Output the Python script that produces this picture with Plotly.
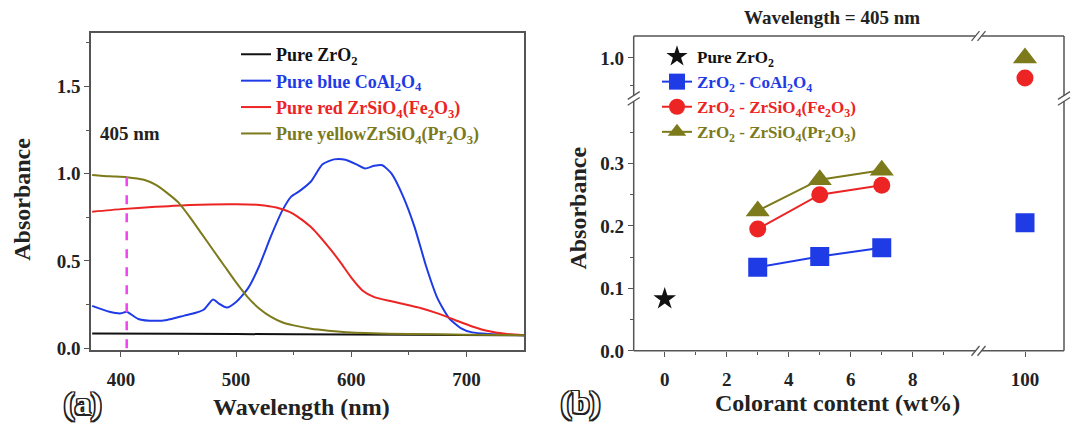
import plotly.graph_objects as go

W, H = 1072, 433

# ---- (a) absorption spectra -------------------------------------------------
wl_zro2 = [375, 450, 550, 650, 750]
abs_zro2 = [0.085, 0.083, 0.080, 0.077, 0.075]

wl_blue = [375, 390, 400, 405, 415, 430, 440, 455, 465, 472, 480, 485, 492, 500,
           510, 520, 530, 540, 548, 555, 565, 575, 585, 595, 605, 612, 620, 627,
           635, 645, 655, 665, 675, 685, 695, 705, 720, 750]
abs_blue = [0.243, 0.209, 0.200, 0.209, 0.168, 0.157, 0.162, 0.187, 0.203, 0.222,
            0.280, 0.256, 0.233, 0.265, 0.340, 0.470, 0.638, 0.787, 0.870, 0.900,
            0.955, 1.054, 1.082, 1.080, 1.052, 1.030, 1.045, 1.048, 1.000, 0.870,
            0.694, 0.470, 0.284, 0.172, 0.116, 0.091, 0.082, 0.075]

wl_red = [375, 400, 430, 460, 500, 520, 535, 550, 565, 580, 590, 600, 610, 620,
          635, 650, 660, 675, 690, 705, 720, 735, 750]
abs_red = [0.782, 0.797, 0.810, 0.821, 0.825, 0.821, 0.806, 0.769, 0.694, 0.582,
           0.498, 0.405, 0.330, 0.293, 0.269, 0.246, 0.231, 0.200, 0.162, 0.125,
           0.097, 0.082, 0.075]

wl_yellow = [375, 390, 405, 420, 430, 440, 450, 460, 470, 480, 490, 500, 510, 520,
             530, 540, 550, 565, 580, 600, 650, 700, 750]
abs_yellow = [0.993, 0.985, 0.980, 0.965, 0.937, 0.890, 0.834, 0.750, 0.657, 0.563,
              0.470, 0.377, 0.293, 0.228, 0.181, 0.149, 0.131, 0.112, 0.101, 0.091,
              0.082, 0.078, 0.075]

marked_wl = 405
marked_top = 1.03

# ---- (b) absorbance at 405 nm vs colorant content ---------------------------
pure_content = [0]
pure_abs = [0.083]
content = [3, 5, 7]
blue_abs = [0.134, 0.151, 0.165]
red_abs = [0.195, 0.250, 0.265]
yellow_abs = [0.224, 0.274, 0.289]
pure_colorant = [100]
blue_pure_abs = [0.205]
red_pure_abs = [0.928]
yellow_pure_abs = [1.000]

names_a = ["Pure ZrO<sub>2</sub>",
           "Pure blue CoAl<sub>2</sub>O<sub>4</sub>",
           "Pure red ZrSiO<sub>4</sub>(Fe<sub>2</sub>O<sub>3</sub>)",
           "Pure yellowZrSiO<sub>4</sub>(Pr<sub>2</sub>O<sub>3</sub>)"]
names_b = ["Pure ZrO<sub>2</sub>",
           "ZrO<sub>2</sub> - CoAl<sub>2</sub>O<sub>4</sub>",
           "ZrO<sub>2</sub> - ZrSiO<sub>4</sub>(Fe<sub>2</sub>O<sub>3</sub>)",
           "ZrO<sub>2</sub> - ZrSiO<sub>4</sub>(Pr<sub>2</sub>O<sub>3</sub>)"]

BLACK = "#111111"
BLUE = "#1f3be6"
RED = "#ec2424"
OLIVE = "#7c7a1a"
MAGENTA = "#ee44ee"
AXIS = "#555555"
FONT = "Liberation Serif, Times New Roman, serif"


def px(x):
    return x / W


def py(y):
    return (H - y) / H


def colored(text, color):
    return f"<span style='color:{color}'>{text}</span>"


fig = go.Figure()

# panel (a)
for wl, ab, name, col in [(wl_zro2, abs_zro2, names_a[0], BLACK),
                          (wl_blue, abs_blue, names_a[1], BLUE),
                          (wl_red, abs_red, names_a[2], RED),
                          (wl_yellow, abs_yellow, names_a[3], OLIVE)]:
    fig.add_trace(go.Scatter(x=wl, y=ab, mode="lines", name=colored(name, col),
                             line=dict(color=col, width=2, shape="spline", smoothing=0.6),
                             xaxis="x", yaxis="y", legend="legend"))

fig.add_trace(go.Scatter(x=[marked_wl, marked_wl], y=[0, marked_top], mode="lines",
                         line=dict(color=MAGENTA, width=2.5, dash="dash"),
                         showlegend=False, xaxis="x", yaxis="y"))

# panel (b)
fig.add_trace(go.Scatter(x=pure_content, y=pure_abs, mode="markers",
                         name=colored(names_b[0], BLACK),
                         marker=dict(symbol="star", size=17, color=BLACK),
                         xaxis="x2", yaxis="y2", legend="legend2"))
series_b = [(blue_abs, blue_pure_abs, names_b[1], BLUE, "square", 19, "y2"),
            (red_abs, red_pure_abs, names_b[2], RED, "circle", 17, "y3"),
            (yellow_abs, yellow_pure_abs, names_b[3], OLIVE, "triangle-up", 21, "y3")]
for vals, pure_val, name, col, sym, size, pure_axis in series_b:
    fig.add_trace(go.Scatter(x=content, y=vals, mode="lines+markers",
                             name=colored(name, col),
                             line=dict(color=col, width=2),
                             marker=dict(symbol=sym, size=size, color=col),
                             xaxis="x2", yaxis="y2", legend="legend2"))
    fig.add_trace(go.Scatter(x=pure_colorant, y=pure_val, mode="markers",
                             marker=dict(symbol=sym, size=size, color=col),
                             showlegend=False, xaxis="x3", yaxis=pure_axis))

tickfont = dict(family=FONT, size=19, color="#222222", weight="bold")
common = dict(ticks="outside", ticklen=5, tickwidth=1.3, tickcolor=AXIS,
              tickfont=tickfont, showgrid=False, zeroline=False)
minor = dict(ticks="outside", ticklen=3, tickwidth=1.2, tickcolor=AXIS, showgrid=False)

# panel (b) geometry in pixels
bx0, bbreak, bx2 = 633.7, 978.5, 1064
by_bottom, by_break, by_top = 360, 101, 37

fig.update_layout(
    width=W, height=H, margin=dict(l=0, r=0, t=0, b=0),
    paper_bgcolor="white", plot_bgcolor="white",
    font=dict(family=FONT, color="#222222", weight="bold"),
    xaxis=dict(domain=[px(91), px(524)], range=[374, 750], anchor="y",
               tickvals=[400, 500, 600, 700],
               minor=dict(tickvals=[450, 550, 650], **minor),
               showline=True, linecolor=AXIS, linewidth=1.5, mirror=True,
               ticklabelstandoff=6, **common),
    yaxis=dict(domain=[py(359.5), py(34)], range=[-0.012, 1.805], anchor="x",
               tickvals=[0, 0.5, 1.0, 1.5], tickformat=".1f",
               minor=dict(tickvals=[0.25, 0.75, 1.25, 1.75], **minor),
               showline=True, linecolor=AXIS, linewidth=1.5, mirror=True, **common),
    xaxis2=dict(domain=[px(bx0), px(bbreak)], range=[-1.0, 10.12], anchor="y2",
                tickvals=[0, 2, 4, 6, 8],
                minor=dict(tickvals=[1, 3, 5, 7, 9], **minor),
                showline=False, ticklabelstandoff=6, **common),
    xaxis3=dict(domain=[px(bbreak), px(bx2)], range=[95.35, 103.9], anchor="y2",
                tickvals=[100], showline=False, ticklabelstandoff=6, **common),
    yaxis2=dict(domain=[py(by_bottom), py(by_break)], range=[0, 0.404], anchor="x2",
                tickvals=[0, 0.1, 0.2, 0.3], tickformat=".1f",
                minor=dict(tickvals=[0.05, 0.15, 0.25, 0.35], **minor),
                showline=False, **common),
    yaxis3=dict(domain=[py(by_break), py(by_top)], range=[0.855, 1.078], anchor="x2",
                tickvals=[1.0], tickformat=".1f",
                minor=dict(tickvals=[0.9], **minor),
                showline=False, **common),
    legend=dict(x=px(236), y=py(37), xanchor="left", yanchor="top",
                bgcolor="rgba(0,0,0,0)", borderwidth=0,
                font=dict(family=FONT, size=18, weight="bold")),
    legend2=dict(x=px(657), y=py(40), xanchor="left", yanchor="top",
                 bgcolor="rgba(0,0,0,0)", borderwidth=0,
                 font=dict(family=FONT, size=17, weight="bold")),
)

# frame of panel (b) with axis-break marks
shapes = []


def seg(x0, y0, x1, y1, w=1.5):
    shapes.append(dict(type="line", xref="paper", yref="paper",
                       x0=px(x0), y0=py(y0), x1=px(x1), y1=py(y1),
                       line=dict(color=AXIS, width=w)))


g = 3
# bottom and top edges, broken at bbreak
for yy in (by_bottom, by_top):
    seg(bx0, yy, bbreak - g, yy)
    seg(bbreak + g, yy, bx2, yy)
    for d in (-g, g):
        seg(bbreak + d - 4, yy + 5, bbreak + d + 4, yy - 5, 1.3)
# left and right edges, broken at by_break
for xx in (bx0, bx2):
    seg(xx, by_bottom, xx, by_break + g)
    seg(xx, by_break - g, xx, by_top)
    for d in (-g, g):
        seg(xx - 6, by_break + d + 4, xx + 6, by_break + d - 4, 1.3)

fig.update_layout(shapes=shapes)

outline = ("-1.5px -1.5px 0 #222, 1.5px -1.5px 0 #222, -1.5px 1.5px 0 #222, "
           "1.5px 1.5px 0 #222, 0 1.5px 0 #222, 0 -1.5px 0 #222, "
           "1.5px 0 0 #222, -1.5px 0 0 #222")
ann = [
    dict(text="Absorbance", x=px(22), y=py(205), textangle=-90,
         font=dict(size=24)),
    dict(text="Wavelength (nm)", x=px(301), y=py(418), font=dict(size=24)),
    dict(text="Absorbance", x=px(578), y=py(214), textangle=-90,
         font=dict(size=24)),
    dict(text="Colorant content (wt%)", x=px(837), y=py(414), font=dict(size=24)),
    dict(text="Wavelength = 405 nm", x=px(832), y=py(18), font=dict(size=19)),
    dict(text="405 nm", x=px(130), y=py(137), font=dict(size=19)),
    dict(text="(a)", x=px(82), y=py(414),
         font=dict(size=32, color="white", shadow=outline)),
    dict(text="(b)", x=px(580), y=py(412),
         font=dict(size=32, color="white", shadow=outline)),
]
for a in ann:
    f = dict(family=FONT, color="#222222", weight="bold")
    f.update(a.pop("font"))
    fig.add_annotation(xref="paper", yref="paper", showarrow=False,
                       xanchor="center", yanchor="middle", font=f, **a)

fig.write_html("out.html")
